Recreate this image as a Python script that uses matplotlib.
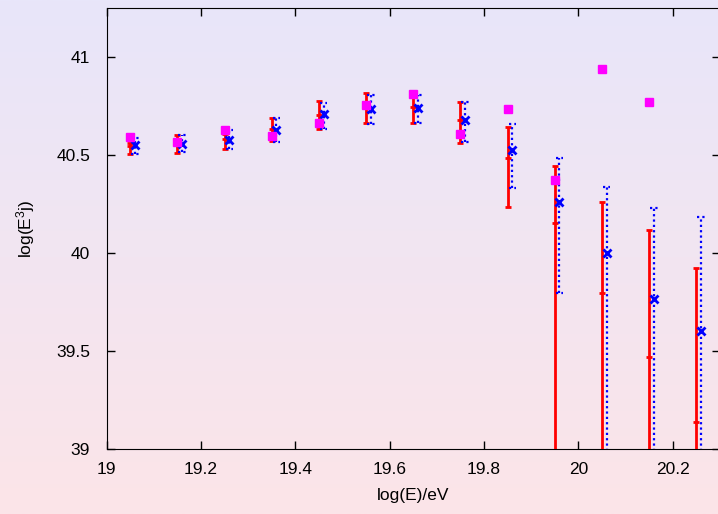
import numpy as np
import matplotlib
matplotlib.use('Agg')
import matplotlib.pyplot as plt
from matplotlib.colors import LinearSegmentedColormap

plt.rcParams['font.family'] = ['Liberation Sans', 'DejaVu Sans']
plt.rcParams['mathtext.fontset'] = 'custom'
plt.rcParams['mathtext.rm'] = 'Liberation Sans'
plt.rcParams['mathtext.it'] = 'Liberation Sans'

# log(E) bin centres
x_bins = [19.05, 19.15, 19.25, 19.35, 19.45, 19.55, 19.65,
          19.75, 19.85, 19.95, 20.05, 20.15, 20.25]

# red set (solid error bars)
red_val = [40.546, 40.56, 40.583, 40.633, 40.707, 40.741, 40.745,
           40.679, 40.486, 40.155, 39.796, 39.473, 39.139]
red_high = [40.565, 40.604, 40.61, 40.692, 40.777, 40.818, 40.815,
            40.77, 40.646, 40.447, 40.264, 40.117, 39.925]
red_low = [40.504, 40.514, 40.53, 40.575, 40.636, 40.665, 40.665,
           40.561, 40.236, 38.77, 38.0, 38.0, 38.0]

# blue set (dotted error bars), shifted a little to the right
blue_val = [40.551, 40.56, 40.58, 40.631, 40.709, 40.735, 40.741,
            40.682, 40.526, 40.262, 40.002, 39.769, 39.606]
blue_high = [40.587, 40.602, 40.63, 40.69, 40.767, 40.808, 40.808,
             40.774, 40.662, 40.485, 40.338, 40.231, 40.184]
blue_low = [40.505, 40.515, 40.53, 40.57, 40.633, 40.658, 40.667,
            40.568, 40.333, 39.796, 38.0, 38.0, 38.0]

# magenta squares (no point in the last bin)
mag_x = x_bins[:12]
mag_val = [40.592, 40.566, 40.631, 40.597, 40.665, 40.759, 40.815,
           40.61, 40.738, 40.376, 40.942, 40.774]

fig = plt.figure(figsize=(7.18, 5.14), dpi=100)

# gradient background
bg = fig.add_axes([0, 0, 1, 1], zorder=-1)
cmap = LinearSegmentedColormap.from_list('bg', ['#e8e6fa', '#fce4e8'])
bg.imshow(np.linspace(0, 1, 256).reshape(-1, 1), cmap=cmap, aspect='auto',
          extent=[0, 1, 0, 1])
bg.axis('off')

ax = fig.add_axes([0.1486, 0.1259, 0.854, 0.858])
ax.patch.set_alpha(0)

xr = np.array(x_bins)
xb = xr + 0.01

r = np.array(red_val)
ax.errorbar(xr, r, yerr=[r - np.array(red_low), np.array(red_high) - r],
            fmt='_', color='#ff0000', ecolor='#ff0000', elinewidth=2,
            capsize=2.4, capthick=2, markersize=5, mew=2, zorder=3)

# dotted bars with dotted caps
b = np.array(blue_val)
dots = (0, (1, 1.4))
ax.vlines(xb, blue_low, blue_high, colors='#0000ff', linestyles=dots,
          linewidth=1.6, zorder=4)
cap = 0.008
ax.hlines(blue_high, xb - cap, xb + cap, colors='#0000ff',
          linestyles=dots, linewidth=1.6, zorder=4)
ax.hlines(blue_low, xb - cap, xb + cap, colors='#0000ff',
          linestyles=dots, linewidth=1.6, zorder=4)
ax.plot(xb, b, 'x', color='#0000ff', markersize=6, mew=2, zorder=5)

ax.plot(mag_x, mag_val, 's', color='#ff00ff', markersize=5.5, zorder=6)

ax.set_xlim(19, 20.3)
ax.set_ylim(39, 41.25)
ax.set_xticks([19, 19.2, 19.4, 19.6, 19.8, 20, 20.2])
ax.set_xticklabels(['19', '19.2', '19.4', '19.6', '19.8', '20', '20.2'])
ax.set_yticks([39, 39.5, 40, 40.5, 41])
ax.set_yticklabels(['39', '39.5', '40', '40.5', '41'])
ax.tick_params(direction='in', length=6, width=1, top=True, right=True,
               labelsize=12.5, pad=9)
ax.tick_params(axis='y', pad=12)

ax.set_xlabel('log(E)/eV', fontsize=12.5, labelpad=8)
ax.set_ylabel('log(E$^3$j)', fontsize=12.5, labelpad=14)

fig.savefig('out.png', dpi=100)
